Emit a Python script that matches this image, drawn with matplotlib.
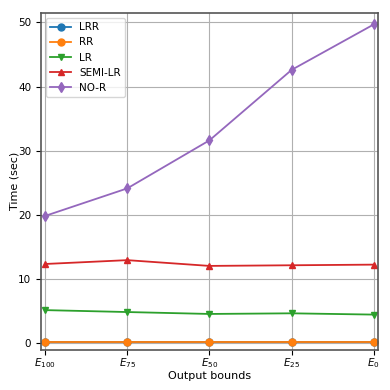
import matplotlib
matplotlib.use('Agg')
import matplotlib.pyplot as plt

bounds = ['$E_{100}$', '$E_{75}$', '$E_{50}$', '$E_{25}$', '$E_{0}$']
lrr = [0.05, 0.05, 0.05, 0.05, 0.05]
rr = [0.08, 0.08, 0.08, 0.08, 0.08]
lr = [5.1, 4.8, 4.5, 4.6, 4.4]
semi_lr = [12.3, 12.9, 12.0, 12.1, 12.2]
no_r = [19.8, 24.1, 31.6, 42.6, 49.7]

fig = plt.figure(figsize=(3.9, 3.9), dpi=100)
ax = fig.add_axes([0.105, 0.103, 0.864, 0.864])

x = range(len(bounds))
ax.plot(x, lrr, marker='o', ms=5, lw=1.3, label='LRR')
ax.plot(x, rr, marker='o', ms=5, lw=1.3, label='RR')
ax.plot(x, lr, marker='v', ms=5, lw=1.3, label='LR')
ax.plot(x, semi_lr, marker='^', ms=5, lw=1.3, label='SEMI-LR')
ax.plot(x, no_r, marker='d', ms=5, lw=1.3, label='NO-R')

ax.set_xticks(list(x))
ax.set_xticklabels(bounds, fontsize=7.5)
ax.tick_params(axis='y', labelsize=7.5)
ax.tick_params(axis='x', pad=1)
ax.set_xlim(-0.05, 4.05)
ax.set_ylim(-1.1, 51.5)
ax.set_yticks([0, 10, 20, 30, 40, 50])
ax.grid(True, color='#b0b0b0', lw=0.8)
for s in ax.spines.values():
    s.set_color('#555555')
    s.set_linewidth(1.2)

ax.set_xlabel('Output bounds', fontsize=8)
ax.set_ylabel('Time (sec)', fontsize=8)
ax.xaxis.set_label_coords(0.5, -0.064)
ax.yaxis.set_label_coords(-0.065, 0.5)
ax.legend(loc='upper left', fontsize=7.5)

fig.savefig('out.png', dpi=100)
